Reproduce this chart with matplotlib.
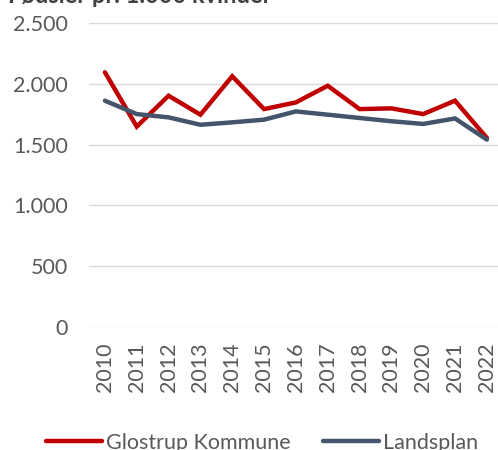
import numpy as np
import matplotlib.pyplot as plt
from matplotlib.ticker import FuncFormatter

# Data
years = ["2010", "2011", "2012", "2013", "2014", "2015", "2016",
         "2017", "2018", "2019", "2020", "2021", "2022"]
glostrup = [2095, 1648, 1902, 1746, 2062, 1792, 1847, 1984, 1792, 1798, 1751, 1861, 1555]
landsplan = [1861, 1751, 1724, 1663, 1683, 1705, 1773, 1746, 1719, 1692, 1670, 1715, 1541]
title = "Fødsler pr. 1.000 kvinder"

plt.rcParams['font.family'] = ['Lato', 'DejaVu Sans']

fig = plt.figure(figsize=(4.98, 4.5), dpi=100)
ax = fig.add_axes([89 / 498, 1 - 327 / 450, 1 - 89 / 498, (327 - 23) / 450])

x = np.arange(len(years))
ax.plot(x, glostrup, color='#C00000', linewidth=3.2, solid_capstyle='round',
        solid_joinstyle='miter', label='Glostrup Kommune', zorder=3)
ax.plot(x, landsplan, color='#44546A', linewidth=3.2, solid_capstyle='round',
        solid_joinstyle='miter', label='Landsplan', zorder=3)

ax.set_ylim(0, 2500)
ax.set_xlim(-0.5, 12.35)
ax.set_yticks(np.arange(0, 2501, 500))
ax.yaxis.set_major_formatter(FuncFormatter(lambda v, p: f"{int(v):,}".replace(",", ".")))
ax.set_xticks(x)
ax.set_xticklabels(years, rotation=90)

ax.grid(axis='y', color='#D9D9D9', linewidth=1.0)
ax.set_axisbelow(True)
for s in ax.spines.values():
    s.set_visible(False)
ax.tick_params(length=0, labelsize=15.5, colors='#595959')
ax.tick_params(axis='y', pad=15)
ax.tick_params(axis='x', pad=11)

fig.text(8 / 498, 1 - 3 / 450, title, fontsize=17, fontweight='bold',
         color='#404040', va='baseline', ha='left')

fig.legend(loc='center', bbox_to_anchor=(262 / 498, 1 - 443 / 450), ncol=2,
           frameon=False, fontsize=15.5, handlelength=2.6, handletextpad=0.2,
           columnspacing=1.5, labelcolor='#595959')

fig.savefig('out.png', dpi=100)
